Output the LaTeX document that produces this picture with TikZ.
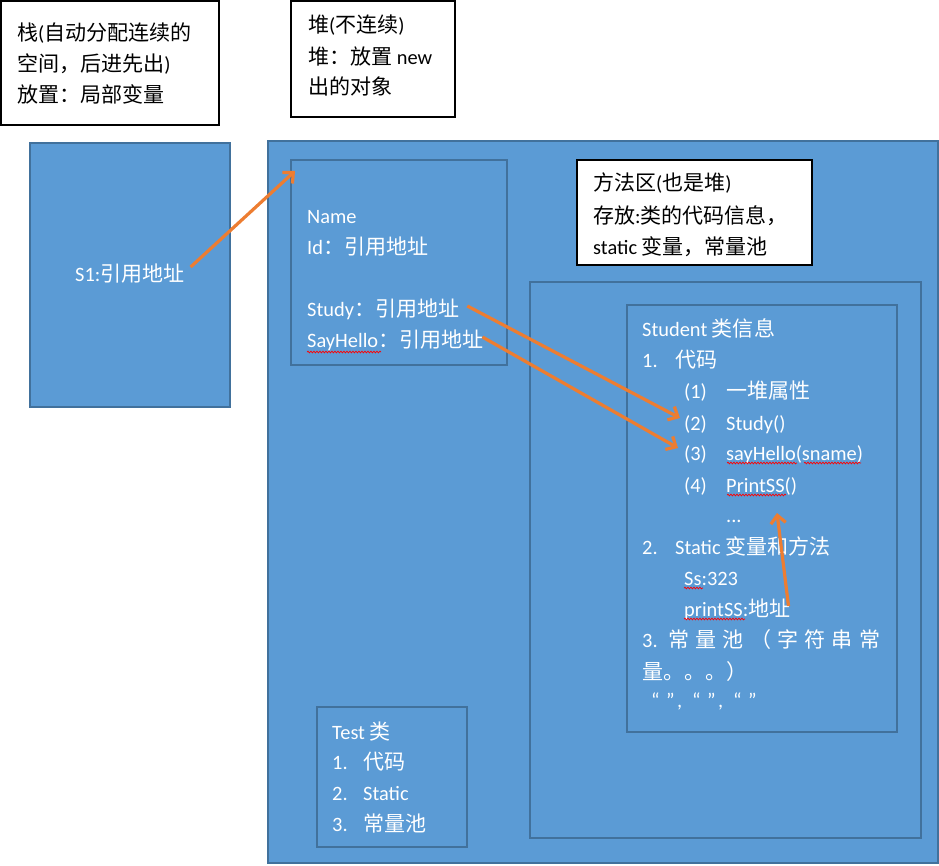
\documentclass[tikz,border=0pt]{standalone}
\usepackage{fontspec}
\setmainfont{Carlito}
\newfontfamily\cjk{Noto Sans CJK SC}[Scale=1.03]
\newcommand{\zh}[1]{{\cjk #1}}
\usepackage{tikz}
\usetikzlibrary{arrows.meta, positioning, decorations.pathmorphing}
\definecolor{MemBlue}{HTML}{5B9BD5}
\definecolor{MemEdge}{HTML}{41719C}
\definecolor{RefOrange}{HTML}{ED7D31}

\begin{document}
\begin{tikzpicture}[
        x=1pt, y=-1pt, font=\fontsize{20.4}{24}\selectfont,
        region/.style={fill=MemBlue, draw=MemEdge, line width=2pt},
        inbox/.style={draw=MemEdge, line width=2pt},
        note/.style={fill=white, draw=black, line width=2.2pt},
        wt/.style={anchor=west, text=white, inner sep=0pt, text height=17pt, text depth=3pt},
        bt/.style={anchor=west, text=black, inner sep=0pt, text height=17pt, text depth=3pt},
        ref/.style={RefOrange, line width=3.2pt, -{Straight Barb[length=8pt, width=15pt]}},
        spell/.style={red, line width=0.7pt, decorate, decoration={snake, amplitude=0.9pt, segment length=3pt}},
      ]
        \useasboundingbox (0,0) rectangle (939,865);
        % --- 栈 ---
        \draw[note] (1,1) rectangle (219,125);
        \node[bt] (stk1) at (17,33) {\zh{栈}(\zh{自动分配连续的}};
        \node[bt] (stk2) at (17,64) {\zh{空间，后进先出})};
        \node[bt] (stk3) at (17,95) {\zh{放置：局部变量}};
        \draw[region] (30,143) rectangle (230,407);
        \node[wt] (s1) at (75,274) {S1:\zh{引用地址}};
        % --- 堆 ---
        \draw[note] (291,1) rectangle (455,117);
        \node[bt] (hp1) at (308,25) {\zh{堆}(\zh{不连续})};
        \node[bt] (hp2) at (308,57) {\zh{堆：放置} new};
        \node[bt] (hp3) at (308,87) {\zh{出的对象}};
        \draw[region] (268,141) rectangle (938,863);
        % 对象
        \draw[inbox] (291,160) rectangle (507,365);
        \node[wt] (oname) at (307,216) {Name};
        \node[wt] (oid) at (307,247) {Id\zh{：引用地址}};
        \node[wt] (ostudy) at (307,309) {Study\zh{：引用地址}};
        \node[wt] (ohello) at (307,340) {SayHello\zh{：引用地址}};
        \coordinate (objtop) at (295,171);
        % --- 方法区 ---
        \draw[note] (577,160) rectangle (812,265);
        \node[bt] (ma1) at (593,183) {\zh{方法区}(\zh{也是堆})};
        \node[bt] (ma2) at (593,216) {\zh{存放}:\zh{类的代码信息，}};
        \node[bt] (ma3) at (593,247) {static \zh{变量，常量池}};
        \draw[inbox] (530,282) rectangle (921,838);
        % Student 类信息
        \draw[inbox] (627,305) rectangle (897,732);
        \node[wt] (stu) at (642,329) {Student \zh{类信息}};
        \node[wt] (code) at (642,360) {\makebox[33pt][l]{1.}\zh{代码}};
        \foreach \y/\idx/\txt [count=\i] in {391/{(1)}/{\zh{一堆属性}}, 423/{(2)}/{Study()}, 453/{(3)}/{sayHello(sname)}, 485/{(4)}/{PrintSS()}}{
          \node[wt] (num\i) at (684,\y) {\idx};
          \node[wt] (item\i) at (726,\y) {\txt};
        }
        \node[wt] (dots) at (726,515) {...};
        \node[wt] (stat) at (642,547) {\makebox[33pt][l]{2.}Static \zh{变量和方法}};
        \node[wt] (ss) at (684,578) {Ss:323};
        \node[wt] (pss) at (684,609) {printSS:\zh{地址}};
        \node[wt] (pool1) at (642,640) {\makebox[238pt][s]{3. \zh{常 量 池 （ 字 符 串 常}}};
        \node[wt] (pool2) at (642,672) {\zh{量。。。）}};
        \node[wt] (pool3) at (651,700) {\makebox[15pt][l]{“}\makebox[11pt][l]{”}\makebox[15pt][l]{,}\makebox[15pt][l]{“}\makebox[11pt][l]{”}\makebox[15pt][l]{,}\makebox[15pt][l]{“}”};
        \coordinate (psstip) at (777,513);
        % Test 类
        \draw[inbox] (317,707) rectangle (467,847);
        \node[wt] (tst) at (332,732) {Test \zh{类}};
        \node[wt] (t1) at (332,762) {\makebox[31pt][l]{1.}\zh{代码}};
        \node[wt] (t2) at (332,793) {\makebox[31pt][l]{2.}Static};
        \node[wt] (t3) at (332,824) {\makebox[31pt][l]{3.}\zh{常量池}};
        % 拼写标记
        \foreach \xa/\xb/\y in {307/381/352, 727/797/463, 804/861/463, 727/786/495, 684/703/588, 684/745/619}
          \draw[spell] (\xa,\y) -- (\xb,\y);
        % --- 引用 ---
        \draw[ref] ([shift={(6,-7)}]s1.east) -- (objtop);
        \draw[ref] ([shift={(8,-3)}]ostudy.east) -- ([shift={(-4,-5)}]num2.west);
        \draw[ref] ([shift={(-1,-3)}]ohello.east) -- ([shift={(-6,-5)}]num3.west);
        \draw[ref] ([shift={(-2,-3)}]pss.east) -- (psstip);
      \end{tikzpicture}
\end{document}
